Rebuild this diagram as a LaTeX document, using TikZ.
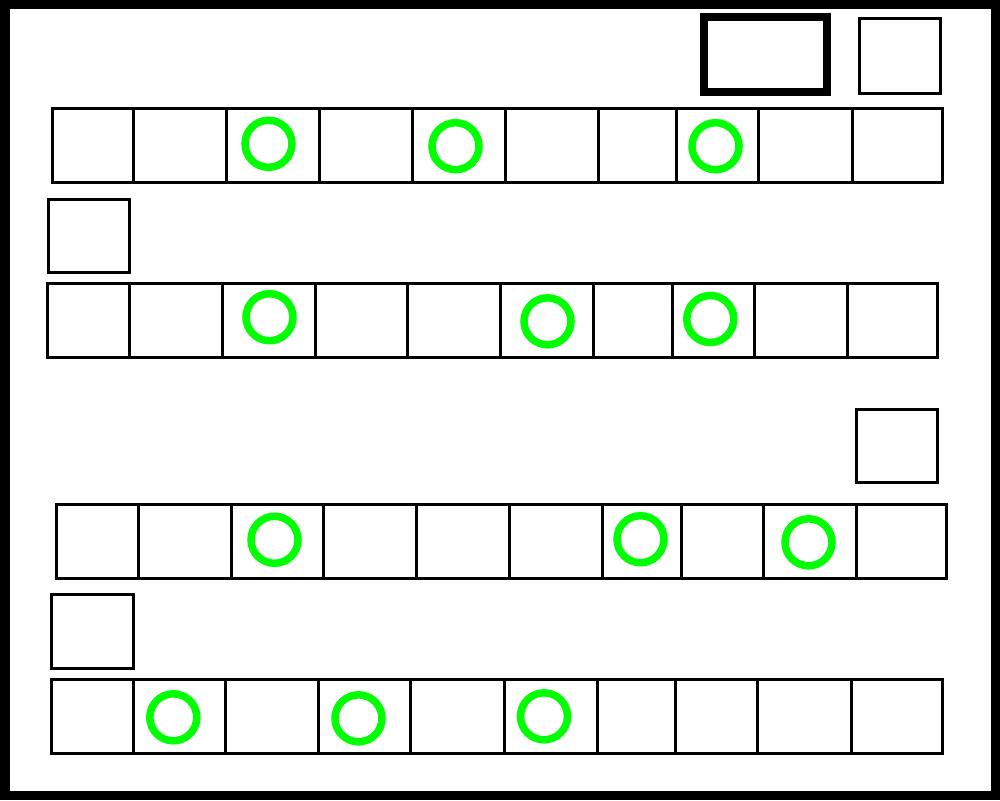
\documentclass[tikz,border=0pt]{standalone}
\definecolor{ringgreen}{RGB}{0,255,0}
\begin{document}
\begin{tikzpicture}[x=1pt,y=-1pt,
  cellline/.style={draw=black,line width=3pt},
  thickbox/.style={draw=black,line width=8pt},
  ring/.style={draw=ringgreen,line width=7.5pt}]
\useasboundingbox (0,0) rectangle (1000,800);
\fill[black] (0,0) rectangle (1000,800);
\fill[white] (9.5,9.5) rectangle (990.7,790.7);
% top boxes
\draw[thickbox] (704,17) rectangle (827,92);
\draw[cellline] (859,18.5) rectangle (940,93);
% single boxes
\draw[cellline] (48,199) rectangle (129.5,272);
\draw[cellline] (856.5,409) rectangle (937,482.5);
\draw[cellline] (51.8,594.8) rectangle (133.2,668);
% rows
\foreach \ya/\yb/\xs in {
  108/182/{52.5,133.5,226.5,319,412,505,598.5,676.5,758.5,852,942.5},
  283/357/{47,129,222,315,407.5,500.3,593.3,672,754,847,937.5},
  504/578/{56.3,138,231,323.5,416.5,509,602.5,681,763,856.5,946.5},
  679/753/{51,133,225,318,410.8,504,597.5,675.5,757.5,851,942}} {
  \foreach \x [count=\i] in \xs {
    \ifnum\i=1 \xdef\xfirst{\x}\fi
    \xdef\xlast{\x}
    \draw[cellline] (\x,\ya) -- (\x,\yb);
  }
  \draw[cellline] (\xfirst,\ya) rectangle (\xlast,\yb);
}
% rings
\foreach \cx/\cy in {268.5/143.8,455.5/146.2,715.5/146.2,
  269.5/317.2,547.5/321.3,710.3/319,
  274.5/539.8,640.5/539.2,808.5/542.3,
  173.3/717.3,358.5/718.3,544/716.3}
  \draw[ring] (\cx,\cy) circle[radius=23.5pt];
\end{tikzpicture}
\end{document}
